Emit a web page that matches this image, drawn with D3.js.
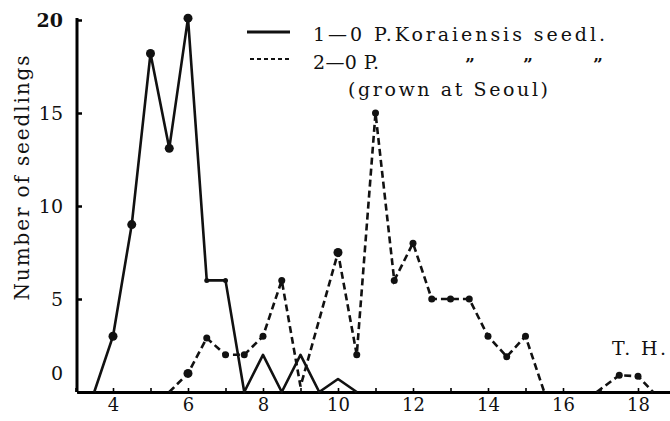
<!DOCTYPE html>
<html>
<head>
<meta charset="utf-8">
<script src="https://cdn.jsdelivr.net/npm/d3@7"></script>
<style>
body{margin:0;background:#fff;}
text{font-family:"DejaVu Serif","Liberation Serif",serif;fill:#111;}
</style>
</head>
<body>
<div id="chart"></div>
<script>
const w = 670;
const h = 421;

//1-0 P. koraiensis seedlings
const size1 = [3.5, 4, 4.5, 5, 5.5, 6, 6.5, 7, 7.5, 8, 8.5, 9, 9.5, 10, 10.5];
const count1 = [0, 3, 9, 18.2, 13.1, 20.1, 6, 6, 0, 2, 0, 2, 0, 0.7, 0];
//2-0 seedlings (grown at Seoul)
const size2 = [5.5, 6, 6.5, 7, 7.5, 8, 8.5, 9, 10, 10.5, 11, 11.5, 12, 12.5, 13, 13.5, 14, 14.5, 15, 15.5];
const count2 = [0, 1, 2.9, 2, 2, 3, 6, 0.3, 7.5, 2, 15, 6, 8, 5, 5, 5, 3, 1.9, 3, 0];
//T. H. seedlings
const size3 = [16.9, 17.5, 18, 18.4];
const count3 = [0, 0.9, 0.85, 0];

const xTicks = [4, 6, 8, 10, 12, 14, 16, 18];
const xMinor = [3, 4, 5, 6, 7, 8, 9, 10, 11, 12, 13, 14, 15, 16, 17, 18, 19];
const yTicks = [0, 5, 10, 15, 20];

const svg = d3.select("#chart")
.append('svg')
.attr('width', w)
.attr('height', h);

//scales
const xScale = d3.scaleLinear()
.domain([3.04, 19.6])
.range([77, 77 + (19.6 - 3.04) * 37.5]);
const yScale = d3.scaleLinear()
.domain([0, 20])
.range([392, 20]);

//x axis, minor ticks first
svg.append('g')
.attr('transform', 'translate(0,392)')
.call(d3.axisBottom(xScale).tickValues(xMinor).tickSize(-4).tickSizeOuter(0).tickFormat(''))
.call(g => g.select('.domain').attr('stroke-width', 3))
.call(g => g.selectAll('.tick line').attr('stroke-width', 1.6));

svg.append('g')
.attr('transform', 'translate(0,392)')
.call(d3.axisBottom(xScale).tickValues(xTicks).tickSize(0).tickPadding(6).tickFormat(d3.format('d')))
.call(g => g.select('.domain').remove())
.call(g => g.selectAll('text').style('font-size', '18px').attr('fill', '#111'));

//y axis
svg.append('g')
.attr('transform', 'translate(77,0)')
.call(d3.axisLeft(yScale).tickValues(yTicks).tickSize(-5).tickSizeOuter(0).tickPadding(14))
.call(g => g.select('.domain').attr('stroke-width', 3).attr('d', 'M0,392V18'))
.call(g => g.selectAll('.tick line').attr('stroke-width', 2.5))
.call(g => g.selectAll('text').style('font-size', '19px').attr('fill', '#111'))
.call(g => g.selectAll('.tick').filter(d => d === 0).select('text').attr('y', -19))
.call(g => g.selectAll('.tick').filter(d => d === 20).select('text').style('font-weight', 'bold'));

//y label
svg.append('text')
.attr('transform', 'translate(29,178) rotate(-90)')
.attr('text-anchor', 'middle')
.attr('textLength', 245)
.attr('lengthAdjust', 'spacing')
.style('font-size', '20px')
.text('Number of seedlings');

const line = d3.line()
.x(d => xScale(d[0]))
.y(d => yScale(d[1]));

const pts1 = size1.map((s, i) => [s, count1[i]]);
const pts2 = size2.map((s, i) => [s, count2[i]]);
const pts3 = size3.map((s, i) => [s, count3[i]]);

//solid series
svg.append('path')
.attr('d', line(pts1))
.attr('fill', 'none')
.attr('stroke', '#111')
.attr('stroke-width', 2.6)
.attr('stroke-linejoin', 'round');

//dashed series
[pts2, pts3].forEach(p => {
    svg.append('path')
    .attr('d', line(p))
    .attr('fill', 'none')
    .attr('stroke', '#111')
    .attr('stroke-width', 2.6)
    .attr('stroke-dasharray', '7,4');
});

//dots
svg.append('g')
.selectAll('circle')
.data(pts1.filter(d => d[1] >= 3))
.enter()
.append('circle')
.attr('cx', d => xScale(d[0]))
.attr('cy', d => yScale(d[1]))
.attr('r', d => d[0] <= 6 ? 4.5 : 2.5)
.attr('fill', '#111');

svg.append('g')
.selectAll('circle')
.data(pts2.concat(pts3).filter(d => d[1] >= 0.5))
.enter()
.append('circle')
.attr('cx', d => xScale(d[0]))
.attr('cy', d => yScale(d[1]))
.attr('r', d => (d[0] === 6 || d[0] === 10) ? 4.5 : 3.5)
.attr('fill', '#111');

//legend
const legend = svg.append('g');
legend.append('line')
.attr('x1', 247).attr('x2', 290)
.attr('y1', 32).attr('y2', 32)
.attr('stroke', '#111')
.attr('stroke-width', 3);
legend.append('line')
.attr('x1', 250).attr('x2', 290)
.attr('y1', 59).attr('y2', 59)
.attr('stroke', '#111')
.attr('stroke-width', 2)
.attr('stroke-dasharray', '4,3');
legend.append('text')
.attr('x', 313).attr('y', 41)
.attr('textLength', 292)
.attr('lengthAdjust', 'spacing')
.style('font-size', '19px')
.text('1—0 P.Koraiensis seedl.');
legend.append('text')
.attr('x', 313).attr('y', 69)
.attr('textLength', 66)
.attr('lengthAdjust', 'spacing')
.style('font-size', '19px')
.text('2—0 P.');
[470, 528, 598].forEach(x => {
    legend.append('text')
    .attr('x', x).attr('y', 70)
    .attr('text-anchor', 'middle')
    .style('font-size', '17px')
    .style('font-weight', 'bold')
    .text('\u201D');
});
legend.append('text')
.attr('x', 348).attr('y', 96)
.attr('textLength', 200)
.attr('lengthAdjust', 'spacing')
.style('font-size', '19px')
.text('(grown at Seoul)');

//T. H. label
svg.append('text')
.attr('x', 612).attr('y', 355)
.attr('textLength', 54)
.attr('lengthAdjust', 'spacing')
.style('font-size', '19px')
.text('T. H.');
</script>
</body>
</html>
